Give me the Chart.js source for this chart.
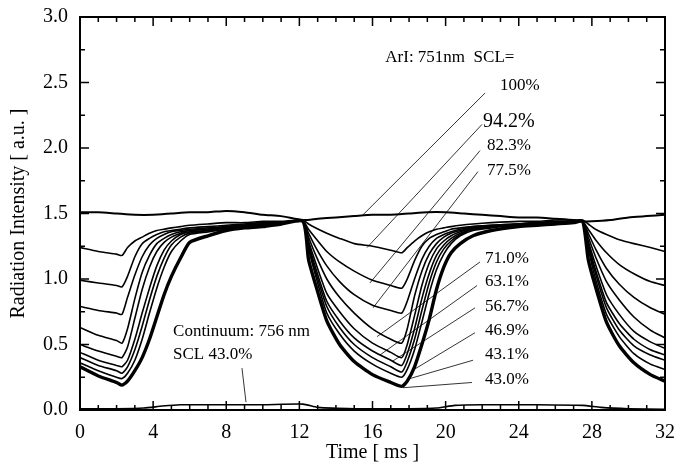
<!DOCTYPE html>
<html>
<head>
<meta charset="utf-8">
<script src="https://cdn.jsdelivr.net/npm/chart.js@4"></script>
<style>
  body { margin: 0; background: #fff; }
  #wrap { width: 678px; height: 467px; }
</style>
</head>
<body>
<div id="wrap"><canvas id="radChart"></canvas></div>
<script>
// time axis shared by the ArI traces [ms]
const times = [0, 1, 2, 2.3, 2.6, 3.0, 3.4, 3.8, 4.2, 4.6, 5.0, 5.5, 6.0, 7, 8, 9, 10, 11, 12.2,
  12.5, 12.9, 13.5, 14.2, 15, 16, 17, 17.6, 17.9, 18.3, 18.7, 19.1, 19.5, 19.9, 20.3, 20.8, 21.5,
  22.5, 24, 25, 26, 27, 27.5, 27.8, 28.2, 28.8, 29.5, 30.3, 31.2, 32];

// SCL = 100% trace has its own sampling
const t100 = [0, 1, 2, 3, 4, 5, 6, 7, 8, 9, 10, 11, 12.2, 13, 14, 15, 16, 17, 18, 19, 20, 21, 22, 23,
  24, 25, 26, 27, 27.5, 28, 29, 30, 31, 32];
const v100 = [1.51, 1.51, 1.50, 1.49, 1.49, 1.50, 1.51, 1.51, 1.52, 1.51, 1.49, 1.48, 1.45, 1.46, 1.47,
  1.48, 1.49, 1.49, 1.50, 1.51, 1.51, 1.50, 1.49, 1.48, 1.47, 1.47, 1.46, 1.45, 1.44, 1.44, 1.45,
  1.47, 1.48, 1.49];

const v942 = [1.24, 1.21, 1.19, 1.18, 1.24, 1.29, 1.32, 1.35, 1.37, 1.38, 1.39, 1.40, 1.41,
  1.42, 1.43, 1.43, 1.44, 1.44, 1.45, 1.42, 1.39, 1.35, 1.31, 1.27, 1.25, 1.22, 1.20,
  1.24, 1.29, 1.33, 1.36, 1.38, 1.39, 1.40, 1.41, 1.42, 1.43, 1.44, 1.44, 1.45, 1.45, 1.45,
  1.42, 1.38, 1.34, 1.30, 1.27, 1.24, 1.21];
const v823 = [0.99, 0.97, 0.95, 0.94, 1.02, 1.17, 1.27, 1.31, 1.34, 1.36, 1.37, 1.38, 1.39,
  1.40, 1.41, 1.42, 1.43, 1.43, 1.44, 1.38, 1.31, 1.21, 1.13, 1.06, 0.99, 0.95, 0.93,
  1.00, 1.14, 1.25, 1.31, 1.34, 1.36, 1.38, 1.39, 1.40, 1.41, 1.42, 1.43, 1.44, 1.44, 1.44,
  1.38, 1.30, 1.20, 1.11, 1.04, 0.98, 0.95];
const v775 = [0.79, 0.76, 0.74, 0.73, 0.86, 1.03, 1.17, 1.26, 1.31, 1.34, 1.36, 1.37, 1.38,
  1.39, 1.40, 1.41, 1.42, 1.43, 1.44, 1.35, 1.24, 1.10, 0.98, 0.88, 0.80, 0.76, 0.74,
  0.83, 1.00, 1.15, 1.25, 1.31, 1.34, 1.36, 1.38, 1.40, 1.41, 1.42, 1.43, 1.43, 1.44, 1.44,
  1.35, 1.23, 1.08, 0.96, 0.86, 0.78, 0.73];
const v710 = [0.63, 0.57, 0.53, 0.51, 0.62, 0.85, 1.05, 1.18, 1.27, 1.31, 1.34, 1.36, 1.37,
  1.38, 1.40, 1.41, 1.42, 1.43, 1.44, 1.32, 1.18, 1.00, 0.86, 0.74, 0.62, 0.54, 0.51,
  0.62, 0.87, 1.06, 1.19, 1.27, 1.32, 1.35, 1.37, 1.39, 1.40, 1.42, 1.43, 1.43, 1.44, 1.44,
  1.32, 1.17, 0.98, 0.84, 0.71, 0.61, 0.55];
const v631 = [0.50, 0.45, 0.41, 0.40, 0.48, 0.70, 0.92, 1.09, 1.21, 1.28, 1.32, 1.35, 1.37,
  1.38, 1.39, 1.41, 1.42, 1.43, 1.44, 1.29, 1.12, 0.89, 0.75, 0.62, 0.51, 0.44, 0.40,
  0.50, 0.72, 0.95, 1.12, 1.23, 1.29, 1.33, 1.36, 1.39, 1.40, 1.42, 1.42, 1.43, 1.44, 1.44,
  1.29, 1.11, 0.88, 0.73, 0.60, 0.52, 0.47];
const v567 = [0.44, 0.38, 0.34, 0.33, 0.38, 0.54, 0.74, 0.93, 1.10, 1.22, 1.29, 1.34, 1.36,
  1.37, 1.39, 1.40, 1.42, 1.43, 1.44, 1.27, 1.08, 0.83, 0.68, 0.55, 0.45, 0.38, 0.34,
  0.43, 0.62, 0.85, 1.04, 1.18, 1.26, 1.31, 1.35, 1.38, 1.40, 1.41, 1.42, 1.43, 1.44, 1.44,
  1.27, 1.07, 0.82, 0.66, 0.54, 0.46, 0.42];
const v469 = [0.40, 0.34, 0.30, 0.28, 0.33, 0.46, 0.64, 0.84, 1.02, 1.16, 1.26, 1.32, 1.35,
  1.37, 1.39, 1.40, 1.41, 1.43, 1.44, 1.25, 1.05, 0.79, 0.63, 0.50, 0.40, 0.33, 0.29,
  0.37, 0.54, 0.76, 0.97, 1.13, 1.23, 1.29, 1.34, 1.38, 1.40, 1.41, 1.42, 1.43, 1.44, 1.44,
  1.25, 1.04, 0.78, 0.61, 0.49, 0.42, 0.38];
const v431 = [0.36, 0.30, 0.25, 0.24, 0.28, 0.38, 0.54, 0.74, 0.93, 1.09, 1.21, 1.29, 1.34,
  1.36, 1.38, 1.40, 1.41, 1.42, 1.44, 1.23, 1.02, 0.74, 0.58, 0.45, 0.35, 0.28, 0.25,
  0.31, 0.46, 0.67, 0.89, 1.07, 1.19, 1.27, 1.33, 1.37, 1.39, 1.41, 1.42, 1.43, 1.43, 1.44,
  1.23, 1.00, 0.73, 0.56, 0.43, 0.35, 0.31];
const v430 = [0.33, 0.26, 0.21, 0.19, 0.22, 0.30, 0.40, 0.54, 0.71, 0.88, 1.02, 1.16, 1.28,
  1.33, 1.37, 1.39, 1.40, 1.42, 1.44, 1.15, 0.95, 0.68, 0.50, 0.37, 0.27, 0.21, 0.18,
  0.22, 0.33, 0.50, 0.69, 0.92, 1.09, 1.20, 1.27, 1.33, 1.37, 1.40, 1.41, 1.42, 1.43, 1.44,
  1.15, 0.94, 0.67, 0.49, 0.36, 0.27, 0.22];

// continuum 756 nm, SCL 43.0%
const tCont = [0, 2, 3.5, 4.5, 5.5, 8, 10, 12.2, 13, 15, 18, 19.5, 20.5, 22, 25, 27.5, 28.5, 30, 32];
const vCont = [0.01, 0.01, 0.015, 0.03, 0.04, 0.04, 0.04, 0.045, 0.02, 0.01, 0.01, 0.015, 0.035,
  0.04, 0.04, 0.035, 0.02, 0.01, 0.005];

const sclLabels = ['100%', '94.2%', '82.3%', '77.5%', '71.0%', '63.1%', '56.7%', '46.9%', '43.1%', '43.0%'];
const xTicks = [0, 4, 8, 12, 16, 20, 24, 28, 32];
const yTicks = [0, 0.5, 1.0, 1.5, 2.0, 2.5, 3.0];

const FONT = "'Liberation Serif', 'DejaVu Serif', serif";

function pts(xs, ys) {
  return xs.map((x, i) => ({ x: x, y: ys[i] }));
}

const traces = [v942, v823, v775, v710, v631, v567, v469, v431, v430];
const datasets = [{ label: sclLabels[0], data: pts(t100, v100), borderWidth: 2 }];
traces.forEach((v, i) => {
  datasets.push({ label: sclLabels[i + 1], data: pts(times, v), borderWidth: i === 8 ? 3.4 : 1.6 });
});
datasets.push({ label: 'Continuum', data: pts(tCont, vCont), borderWidth: 1.6 });
datasets.forEach(d => {
  d.borderColor = '#000';
  d.showLine = true;
  d.pointRadius = 0;
  d.tension = 0.2;
  d.fill = false;
});

// annotations in data units: text position and leader line
const notes = [
  { text: 'ArI: 751nm  SCL=', x: 16.7, y: 2.69, size: 17 },
  { text: '100%', x: 22.98, y: 2.48, size: 17, line: [22.16, 2.42, 15.48, 1.49] },
  { text: '94.2%', x: 22.05, y: 2.20, size: 20, line: [21.99, 2.18, 15.70, 1.24] },
  { text: '82.3%', x: 22.27, y: 2.02, size: 17, line: [21.88, 1.98, 15.86, 0.97] },
  { text: '77.5%', x: 22.27, y: 1.83, size: 17, line: [21.77, 1.82, 16.03, 0.78] },
  { text: '71.0%', x: 22.16, y: 1.16, size: 17, line: [21.88, 1.13, 16.25, 0.56] },
  { text: '63.1%', x: 22.16, y: 0.98, size: 17, line: [21.72, 0.95, 16.41, 0.42] },
  { text: '56.7%', x: 22.16, y: 0.79, size: 17, line: [21.61, 0.78, 17.07, 0.37] },
  { text: '46.9%', x: 22.16, y: 0.61, size: 17, line: [21.61, 0.59, 18.16, 0.30] },
  { text: '43.1%', x: 22.16, y: 0.42, size: 17, line: [21.50, 0.38, 18.05, 0.24] },
  { text: '43.0%', x: 22.16, y: 0.23, size: 17, line: [21.44, 0.21, 17.67, 0.17] },
  { text: 'Continuum: 756 nm', x: 5.09, y: 0.60, size: 17 },
  { text: 'SCL 43.0%', x: 5.09, y: 0.42, size: 17, line: [8.86, 0.32, 9.08, 0.06] }
];

const framePlugin = {
  id: 'frame',
  afterDatasetsDraw(chart) {
    const { ctx, chartArea: a, scales: { x, y } } = chart;
    ctx.save();
    ctx.strokeStyle = '#000';
    ctx.lineWidth = 2;
    ctx.strokeRect(a.left, a.top, a.right - a.left, a.bottom - a.top);
    ctx.lineWidth = 1.5;
    ctx.beginPath();
    for (let v = 0; v <= 32; v += 1) {
      const px = x.getPixelForValue(v);
      const len = v % 4 === 0 ? 9 : 5;
      ctx.moveTo(px, a.bottom); ctx.lineTo(px, a.bottom - len);
      ctx.moveTo(px, a.top); ctx.lineTo(px, a.top + len);
    }
    for (let k = 0; k <= 12; k++) {
      const py = y.getPixelForValue(k * 0.25);
      const len = k % 2 === 0 ? 9 : 5;
      ctx.moveTo(a.left, py); ctx.lineTo(a.left + len, py);
      ctx.moveTo(a.right, py); ctx.lineTo(a.right - len, py);
    }
    ctx.stroke();

    // leader lines and labels
    ctx.lineWidth = 0.8;
    ctx.fillStyle = '#000';
    ctx.textBaseline = 'middle';
    notes.forEach(n => {
      if (n.line) {
        ctx.beginPath();
        ctx.moveTo(x.getPixelForValue(n.line[0]), y.getPixelForValue(n.line[1]));
        ctx.lineTo(x.getPixelForValue(n.line[2]), y.getPixelForValue(n.line[3]));
        ctx.stroke();
      }
      ctx.font = n.size + 'px ' + FONT;
      ctx.fillText(n.text, x.getPixelForValue(n.x), y.getPixelForValue(n.y));
    });
    ctx.restore();
  }
};

new Chart(document.getElementById('radChart'), {
  type: 'scatter',
  data: { datasets: datasets },
  options: {
    responsive: true,
    maintainAspectRatio: false,
    animation: false,
    layout: { padding: { top: 17, right: 13, left: 0, bottom: 0 } },
    plugins: { legend: { display: false }, tooltip: { enabled: false } },
    scales: {
      x: {
        type: 'linear', min: 0, max: 32,
        afterBuildTicks: s => { s.ticks = xTicks.map(v => ({ value: v })); },
        afterFit: s => { s.height = 57; s.paddingLeft = 0; s.paddingRight = 0; },
        ticks: { color: '#000', padding: 3, maxRotation: 0, font: { family: FONT, size: 20 } },
        grid: { display: false },
        border: { display: false },
        title: { display: true, text: 'Time [ ms ]', color: '#000', padding: { top: 0, bottom: 2 },
          font: { family: FONT, size: 20 } }
      },
      y: {
        type: 'linear', min: 0, max: 3,
        afterBuildTicks: s => { s.ticks = yTicks.map(v => ({ value: v })); },
        afterFit: s => { s.width = 80; s.paddingTop = 0; s.paddingBottom = 0; },
        ticks: { color: '#000', padding: 4, font: { family: FONT, size: 20 },
          callback: v => v.toFixed(1) },
        grid: { display: false },
        border: { display: false },
        title: { display: true, text: 'Radiation Intensity [ a.u. ]', color: '#000',
          padding: { top: 7, bottom: 0 }, font: { family: FONT, size: 20 } }
      }
    }
  },
  plugins: [framePlugin]
});
</script>
</body>
</html>
